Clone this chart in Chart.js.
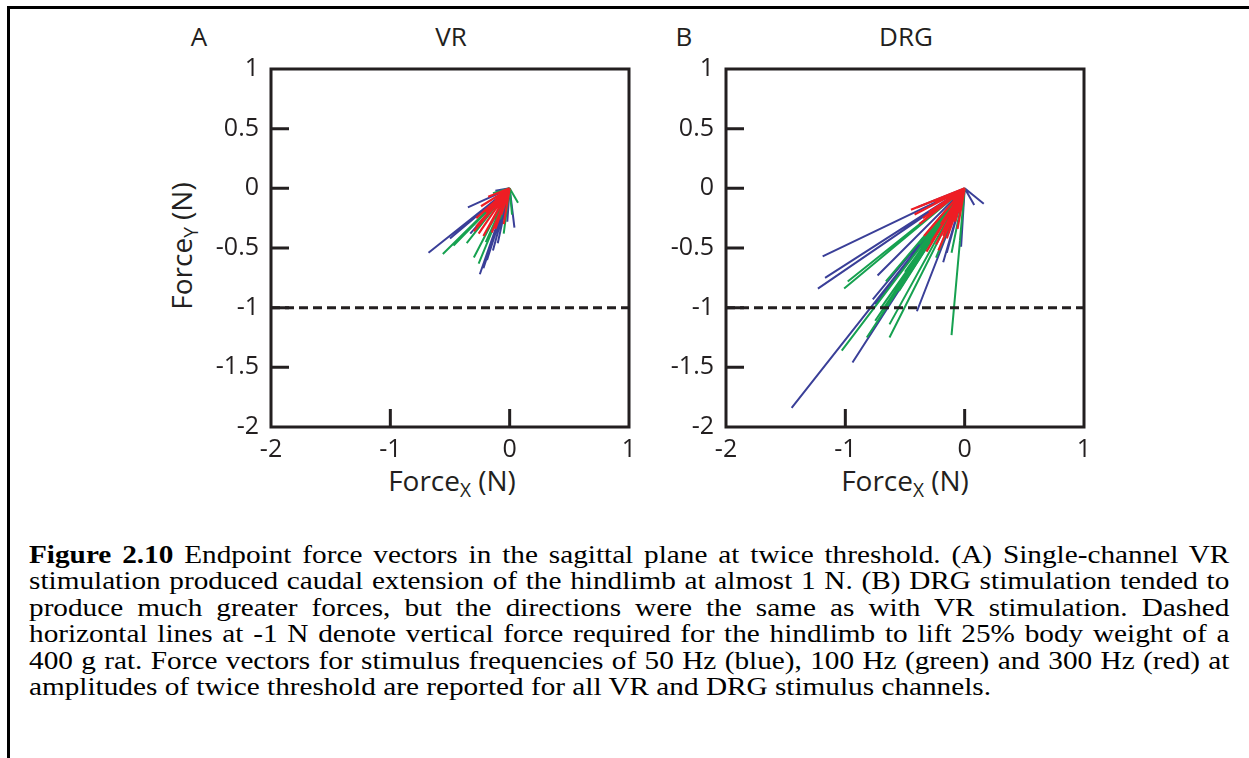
<!DOCTYPE html>
<html>
<head>
<meta charset="utf-8">
<script src="https://cdn.jsdelivr.net/npm/chart.js@4.4.1/dist/chart.umd.min.js"></script>
<style>
  body { margin: 0; background: #fff; width: 1249px; height: 758px; overflow: hidden; position: relative; }
  .frameTop { position: absolute; left: 7px; top: 6px; width: 1242px; height: 3px; background: #000; }
  .frameLeft { position: absolute; left: 7px; top: 6px; width: 3px; height: 752px; background: #000; }
  .lbl { position: absolute; font-family: "Open Sans", sans-serif; color: #231f20; white-space: nowrap; }
  .lbl sub { font-size: 0.68em; vertical-align: -0.32em; }
  canvas { position: absolute; }
  #caption { position: absolute; left: 29px; top: 542px; width: 1067px; transform-origin: 0 0; transform: scaleX(1.125);
    font-family: "Liberation Serif", serif; font-size: 26px; color: #000; }
  #caption div { height: 26.4px; line-height: 26.4px; white-space: nowrap; text-align: justify; text-align-last: justify; }
  #caption div.last { text-align-last: left; }
</style>
</head>
<body>
<div class="frameTop"></div>
<div class="frameLeft"></div>

<div class="lbl" style="left:199px; top:36px; font-size:26px; transform: translate(-50%,-50%);">A</div>
<div class="lbl" style="left:451px; top:36px; font-size:26px; transform: translate(-50%,-50%);">VR</div>
<div class="lbl" style="left:684px; top:36px; font-size:26px; transform: translate(-50%,-50%);">B</div>
<div class="lbl" style="left:906px; top:36px; font-size:26px; transform: translate(-50%,-50%);">DRG</div>

<div class="lbl" style="left:183px; top:246px; font-size:28px; transform: translate(-50%,-50%) rotate(-90deg);">Force<sub>Y</sub> (N)</div>
<div class="lbl" style="left:452px; top:482px; font-size:28px; transform: translate(-50%,-50%);">Force<sub>X</sub> (N)</div>
<div class="lbl" style="left:905px; top:482px; font-size:28px; transform: translate(-50%,-50%);">Force<sub>X</sub> (N)</div>

<canvas id="vrChart" style="left:170px; top:50px;" width="480" height="420"></canvas>
<canvas id="drgChart" style="left:625px; top:50px;" width="480" height="420"></canvas>

<div id="caption">
  <div><b>Figure 2.10</b> Endpoint force vectors in the sagittal plane at twice threshold. (A) Single-channel VR</div>
  <div>stimulation produced caudal extension of the hindlimb at almost 1 N. (B) DRG stimulation tended to</div>
  <div>produce much greater forces, but the directions were the same as with VR stimulation. Dashed</div>
  <div>horizontal lines at -1 N denote vertical force required for the hindlimb to lift 25% body weight of a</div>
  <div>400 g rat. Force vectors for stimulus frequencies of 50 Hz (blue), 100 Hz (green) and 300 Hz (red) at</div>
  <div class="last">amplitudes of twice threshold are reported for all VR and DRG stimulus channels.</div>
</div>

<script>
// axis ranges and ticks (N)
const axisMin = -2;
const axisMax = 1;
const xTicks = [-2, -1, 0, 1];
const yTicks = [1, 0.5, 0, -0.5, -1, -1.5, -2];
const liftLine = -1; // force needed to lift 25% body weight

// vector tips [Fx, Fy], all vectors start at the origin
// VR panel
const vrBlue = [[-0.68,-0.54],[-0.35,-0.16],[-0.50,-0.42],[-0.45,-0.36],[-0.33,-0.38],[-0.25,-0.72],
  [-0.22,-0.67],[-0.19,-0.60],[-0.14,-0.52],[0.04,-0.33],[-0.02,-0.28],[-0.10,-0.46],[-0.12,-0.02]];
const vrGreen = [[-0.56,-0.55],[-0.47,-0.48],[-0.40,-0.40],[-0.30,-0.58],[-0.26,-0.63],[-0.20,-0.45],
  [-0.15,-0.36],[-0.08,-0.26],[0.07,-0.12],[-0.05,-0.38],[-0.14,-0.04],[0.02,-0.22],[-0.30,-0.30],[-0.36,-0.46]];
const vrRed = [[-0.30,-0.36],[-0.25,-0.30],[-0.22,-0.40],[-0.18,-0.33],[-0.15,-0.37],[-0.10,-0.26],
  [-0.08,-0.15],[-0.05,-0.30],[-0.20,-0.20],[-0.12,-0.10],[-0.03,-0.12],[-0.24,-0.15],[-0.18,-0.07],
  [-0.28,-0.32],[-0.26,-0.38],[-0.16,-0.30],[-0.12,-0.34],[-0.07,-0.22],[-0.22,-0.25],[-0.28,-0.25]];
// DRG panel
const drgBlue = [[-1.45,-1.84],[-1.19,-0.57],[-1.17,-0.75],[-1.23,-0.84],[-0.94,-1.46],[-0.73,-0.73],
  [-0.40,-1.03],[-0.18,-0.62],[-0.03,-0.49],[0.16,-0.13],[0.08,-0.14],[-0.77,-0.93],[-0.15,-0.54],
  [-0.40,-0.16],[-0.75,-0.97],[-0.60,-0.60]];
const drgGreen = [[-1.01,-0.84],[-0.98,-0.78],[-1.03,-1.36],[-0.82,-1.25],[-0.63,-1.25],[-0.63,-1.14],
  [-0.11,-1.23],[-0.11,-0.54],[-0.66,-0.78],[-0.75,-1.11],[-0.24,-0.58],[-0.04,-0.44],[-0.38,-0.47],
  [-0.55,-0.86],[-0.70,-1.00],[-0.50,-0.70]];
const drgRed = [[-0.45,-0.18],[-0.40,-0.16],[-0.32,-0.53],[-0.24,-0.47],[-0.13,-0.36],[-0.30,-0.35],
  [-0.20,-0.30],[-0.08,-0.28],[-0.35,-0.25],[-0.15,-0.42],[-0.05,-0.20],[-0.25,-0.12],[-0.10,-0.10],
  [-0.42,-0.22],[-0.38,-0.30],[-0.28,-0.45],[-0.18,-0.40],[-0.12,-0.25],[-0.30,-0.20],[-0.22,-0.52],
  [-0.06,-0.34],[-0.34,-0.40]];

const BLUE = "#3a3f98";
const GREEN = "#16a150";
const RED = "#ee1d24";
const tickFont = { family: "Open Sans", size: 25 };

// origin -> tip segments, split by gaps
function vectors(tips) {
  const out = [];
  tips.forEach(function (t) {
    out.push({ x: 0, y: 0 }, { x: t[0], y: t[1] }, { x: null, y: null });
  });
  return out;
}

function vecSet(tips, color, width, order) {
  return {
    data: vectors(tips),
    showLine: true,
    borderColor: color,
    borderWidth: width,
    pointRadius: 0,
    spanGaps: false,
    order: order,
  };
}

// box frame with inward ticks
const framePlugin = {
  id: "frame",
  afterDatasetsDraw(chart) {
    const ctx = chart.ctx;
    const a = chart.chartArea;
    const xs = chart.scales.x;
    const ys = chart.scales.y;
    ctx.save();
    ctx.strokeStyle = "#231f20";
    ctx.lineWidth = 3;
    ctx.lineCap = "square";
    ctx.strokeRect(a.left, a.top, a.right - a.left, a.bottom - a.top);
    ctx.lineCap = "butt";
    ctx.beginPath();
    xTicks.forEach(function (v) {
      if (v === axisMin || v === axisMax) return;
      const px = xs.getPixelForValue(v);
      ctx.moveTo(px, a.bottom);
      ctx.lineTo(px, a.bottom - 18);
    });
    yTicks.forEach(function (v) {
      if (v === axisMin || v === axisMax) return;
      const py = ys.getPixelForValue(v);
      ctx.moveTo(a.left, py);
      ctx.lineTo(a.left + 18, py);
    });
    ctx.stroke();
    ctx.restore();
  },
};

function makeChart(id, blue, green, red) {
  const ctx = document.getElementById(id).getContext("2d");
  return new Chart(ctx, {
    type: "scatter",
    data: {
      datasets: [
        vecSet(blue, BLUE, 2, 4),
        vecSet(green, GREEN, 2, 3),
        vecSet(red, RED, 2.2, 2),
        {
          data: [{ x: axisMin, y: liftLine }, { x: axisMax, y: liftLine }],
          showLine: true,
          borderColor: "#231f20",
          borderWidth: 3,
          borderDash: [9, 5],
          pointRadius: 0,
          order: 1,
        },
      ],
    },
    options: {
      responsive: false,
      animation: false,
      layout: { padding: { left: 0, right: 21, top: 18, bottom: 0 } },
      plugins: { legend: { display: false }, tooltip: { enabled: false } },
      scales: {
        x: {
          type: "linear",
          min: axisMin,
          max: axisMax,
          afterBuildTicks: function (s) { s.ticks = xTicks.map(function (v) { return { value: v }; }); },
          afterFit: function (s) { s.height = 43; },
          grid: { display: false },
          border: { display: false },
          ticks: { font: tickFont, color: "#231f20", padding: 0, maxRotation: 0, callback: function (v) { return String(v); } },
        },
        y: {
          type: "linear",
          min: axisMin,
          max: axisMax,
          afterBuildTicks: function (s) { s.ticks = yTicks.map(function (v) { return { value: v }; }); },
          afterFit: function (s) { s.width = 101; },
          grid: { display: false },
          border: { display: false },
          ticks: { font: tickFont, color: "#231f20", padding: 4, callback: function (v) { return String(v); } },
        },
      },
    },
    plugins: [framePlugin],
  });
}

makeChart("vrChart", vrBlue, vrGreen, vrRed);
makeChart("drgChart", drgBlue, drgGreen, drgRed);
</script>
</body>
</html>
